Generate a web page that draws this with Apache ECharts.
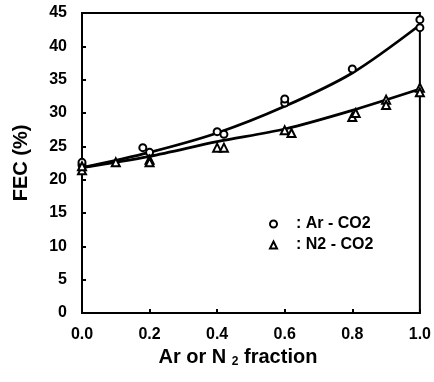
<!DOCTYPE html>
<html>
<head>
<meta charset="utf-8">
<script src="https://cdn.jsdelivr.net/npm/echarts@6/dist/echarts.min.js"></script>
<style>
  html, body { margin: 0; padding: 0; background: #fff; }
  #chart { width: 434px; height: 382px; }
</style>
</head>
<body>
<div id="chart"></div>
<script>
"use strict";

// measured points, Ar - CO2 (circles)
var arX = [0, 0, 0.18, 0.2, 0.4, 0.42, 0.6, 0.6, 0.8, 1.0, 1.0];
var arY = [22.2, 22.6, 24.8, 24.1, 27.2, 26.8, 31.5, 32.1, 36.6, 42.8, 44.0];

// measured points, N2 - CO2 (triangles)
var n2X = [0, 0, 0.1, 0.2, 0.2, 0.4, 0.42, 0.6, 0.62, 0.8, 0.81, 0.9, 0.9, 1.0, 1.0];
var n2Y = [21.4, 22.0, 22.6, 23.0, 22.6, 24.8, 24.8, 27.4, 27.0, 29.4, 30.0, 32.0, 31.2, 33.8, 33.1];

// fitted curves
var fitX = [0, 0.2, 0.4, 0.6, 0.8, 1.0];
var arFit = [21.8, 24.1, 27.0, 31.0, 36.0, 43.2];
var n2Fit = [21.8, 23.5, 25.7, 27.6, 30.4, 33.6];

function pairs(xs, ys) {
	var out = [];
	for (var i = 0; i < xs.length; i++) {
		out.push([xs[i], ys[i]]);
	}
	return out;
}

var font = '"Liberation Sans", Arial, sans-serif';
var myChart = echarts.init(document.getElementById('chart'));

var option = {
	animation: false,
	backgroundColor: '#fff',
	grid: {
		left: 82,
		right: 11,
		top: 13,
		bottom: 69,
		show: true,
		borderColor: '#000',
		borderWidth: 2
	},
	legend: {
		left: 264,
		top: 211,
		orient: 'vertical',
		itemWidth: 7,
		itemHeight: 7,
		itemGap: 5,
		data: ['Ar - CO2', 'N2 - CO2'],
		formatter: ': {name}',
		textStyle: {
			fontFamily: font,
			fontWeight: 'bold',
			fontSize: 16,
			color: '#000',
			padding: [0, 0, 0, 14]
		}
	},
	xAxis: {
		type: 'value',
		min: 0,
		max: 1,
		interval: 0.2,
		name: 'Ar or N {sub|2} fraction',
		nameLocation: 'middle',
		nameGap: 32,
		nameTextStyle: {
			fontFamily: font,
			fontWeight: 'bold',
			fontSize: 20,
			color: '#000',
			padding: [0, 26, 0, 0],
			rich: {
				sub: {
					fontFamily: font,
					fontWeight: 'bold',
					fontSize: 12,
					color: '#000',
					verticalAlign: 'bottom',
					padding: [8, 0, 0, 0]
				}
			}
		},
		axisLine: { lineStyle: { color: '#000', width: 2 } },
		axisTick: { inside: true, length: 4, lineStyle: { color: '#000', width: 2 } },
		axisLabel: {
			margin: 14,
			fontFamily: font,
			fontWeight: 'bold',
			fontSize: 16,
			color: '#000',
			formatter: function (v) { return v.toFixed(1); }
		},
		splitLine: { show: false }
	},
	yAxis: {
		type: 'value',
		min: 0,
		max: 45,
		interval: 5,
		name: 'FEC (%)',
		nameLocation: 'middle',
		nameGap: 51,
		nameTextStyle: {
			fontFamily: font,
			fontWeight: 'bold',
			fontSize: 20,
			color: '#000'
		},
		axisLine: { show: true, lineStyle: { color: '#000', width: 2 } },
		axisTick: { show: true, inside: true, length: 4, lineStyle: { color: '#000', width: 2 } },
		axisLabel: {
			margin: 15,
			fontFamily: font,
			fontWeight: 'bold',
			fontSize: 16,
			color: '#000'
		},
		splitLine: { show: false }
	},
	series: [
		{
			name: 'Ar fit',
			type: 'line',
			data: pairs(fitX, arFit),
			smooth: 0.3,
			showSymbol: false,
			lineStyle: { color: '#000', width: 2.8 },
			z: 2
		}, {
			name: 'N2 fit',
			type: 'line',
			data: pairs(fitX, n2Fit),
			smooth: 0.3,
			showSymbol: false,
			lineStyle: { color: '#000', width: 2.8 },
			z: 2
		}, {
			name: 'Ar - CO2',
			type: 'scatter',
			symbol: 'emptyCircle',
			symbolSize: 7,
			data: pairs(arX, arY),
			itemStyle: { color: '#000', borderColor: '#000', borderWidth: 2, opacity: 1 },
			z: 3
		}, {
			name: 'N2 - CO2',
			type: 'scatter',
			symbol: 'emptyTriangle',
			symbolSize: 8,
			data: pairs(n2X, n2Y),
			itemStyle: { color: '#000', borderColor: '#000', borderWidth: 2, opacity: 1 },
			z: 3
		}
	]
};

myChart.setOption(option);
</script>
</body>
</html>
